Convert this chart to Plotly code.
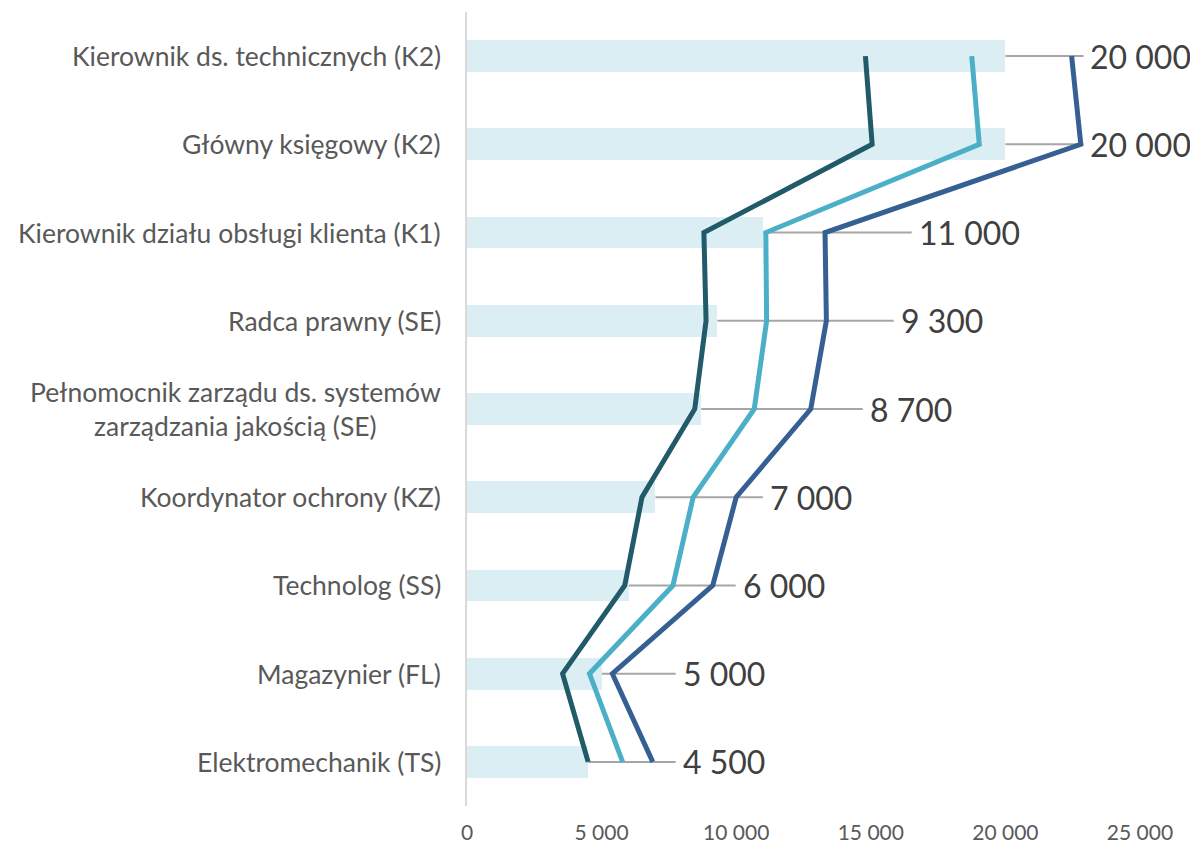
import plotly.graph_objects as go

categories = [
    "Kierownik ds. technicznych (K2)",
    "Główny księgowy (K2)",
    "Kierownik działu obsługi klienta (K1)",
    "Radca prawny (SE)",
    "Pełnomocnik zarządu ds. systemów<br>zarządzania jakością (SE)",
    "Koordynator ochrony (KZ)",
    "Technolog (SS)",
    "Magazynier (FL)",
    "Elektromechanik (TS)",
]
bar_values = [20000, 20000, 11000, 9300, 8700, 7000, 6000, 5000, 4500]
series_low = [14800, 15050, 8800, 8880, 8460, 6500, 5860, 3550, 4500]
series_mid = [18750, 19030, 11100, 11130, 10670, 8400, 7650, 4550, 5780]
series_high = [22460, 22800, 13300, 13350, 12770, 10000, 9130, 5400, 6900]
label_x = [22900, 22900, 16520, 15850, 14700, 10990, 9980, 7750, 7750]
x_ticks = [0, 5000, 10000, 15000, 20000, 25000]


def fmt(v):
    return f"{v:,}".replace(",", " ")


FONT = "Lato, 'Open Sans', sans-serif"
idx = list(range(len(categories)))

fig = go.Figure()
fig.add_trace(go.Bar(
    x=bar_values, y=idx, orientation="h", width=0.36,
    marker=dict(color="#DAEEF3", line=dict(width=0)), hoverinfo="skip",
))
for vals, col in [(series_high, "#366093"), (series_mid, "#4BAFC8"), (series_low, "#215A69")]:
    fig.add_trace(go.Scatter(
        x=vals, y=idx, mode="lines", line=dict(color=col, width=5),
        hoverinfo="skip",
    ))

shapes = []
annotations = []
for i, (cat, v, lx) in enumerate(zip(categories, bar_values, label_x)):
    shapes.append(dict(type="line", xref="x", yref="y", x0=v, x1=lx, y0=i, y1=i,
                       line=dict(color="#A6A6A6", width=2), layer="below"))
    annotations.append(dict(x=lx, y=i, xref="x", yref="y", text=fmt(v), showarrow=False,
                            xanchor="left", yanchor="middle", xshift=5,
                            font=dict(family=FONT, size=32, color="#404040")))
    annotations.append(dict(x=0, y=i, xref="paper", yref="y", text=cat, showarrow=False,
                            xanchor="right", yanchor="middle", xshift=-24, align="center",
                            font=dict(family=FONT, size=26.5, color="#595959")))

fig.update_layout(
    width=1190, height=840,
    margin=dict(l=459, r=58, t=4, b=42, autoexpand=False),
    plot_bgcolor="white", paper_bgcolor="white",
    showlegend=False, bargap=0,
    shapes=shapes, annotations=annotations,
    font=dict(family=FONT),
)
fig.update_xaxes(range=[0, 25000], tickvals=x_ticks, ticktext=[fmt(t) for t in x_ticks],
                 showgrid=False, zeroline=False, showline=False, automargin=False,
                 tickfont=dict(family=FONT, size=21, color="#595959"), ticks="", ticklabelstandoff=12)
fig.update_yaxes(range=[len(categories) - 0.5, -0.5], showticklabels=False, showgrid=False,
                 zeroline=False, showline=True, linecolor="#D9D9D9", linewidth=2, ticks="",
                 automargin=False)

fig.write_html("out.html")
